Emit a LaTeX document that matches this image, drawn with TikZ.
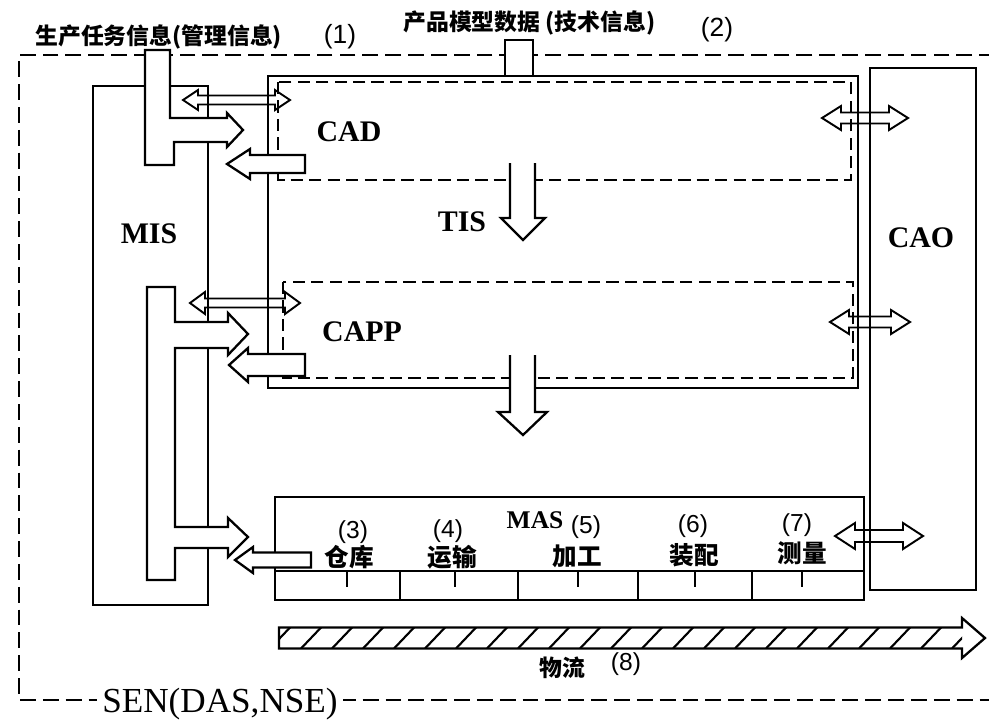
\documentclass[tikz,border=0pt]{standalone}
\usepackage{fontspec}
\setmainfont{Liberation Serif}
\setsansfont{Liberation Sans}
\newfontfamily\cjk{Noto Sans CJK SC}

\begin{document}
\begin{tikzpicture}[x=0.2mm,y=-0.2mm,
    wall/.style={line width=1.3pt},
    border/.style={line width=1.3pt,dash pattern=on 9pt off 4pt},
    subsys/.style={line width=1.2pt,dash pattern=on 7pt off 3.5pt},
    fat/.style={line width=1.3pt,fill=white,line join=miter},
    hollow/.style={line width=1.1pt,line join=miter},
    big/.style={inner sep=0pt,font=\bfseries\fontsize{17}{17}\selectfont},
    num/.style={inner sep=0pt,font=\sffamily\fontsize{14}{14}\selectfont},
    zh/.style={inner sep=0pt,font=\cjk\bfseries\fontsize{14}{14}\selectfont},
    zhtitle/.style={inner sep=0pt,font=\cjk\bfseries\fontsize{13}{13}\selectfont},
    pics/fatarrow/.style n args={4}{code={
      \draw[fat] (0,-#2) -- (#1-#4,-#2) -- (#1-#4,-#3) -- (#1,0) -- (#1-#4,#3) -- (#1-#4,#2) -- (0,#2) -- cycle;
    }},
    pics/twoway/.style n args={4}{code={
      \draw[hollow] (0,0) -- (#4,-#3) -- (#4,-#2) -- (#1-#4,-#2) -- (#1-#4,-#3) -- (#1,0)
        -- (#1-#4,#3) -- (#1-#4,#2) -- (#4,#2) -- (#4,#3) -- cycle;
    }}]
      \useasboundingbox (0,0) rectangle (989,721);

      \draw[border] (995,55) -- (19,55) -- (19,700) -- (995,700);

      \draw[wall] (93,86) rectangle (208,605);
      \draw[wall] (268,76) rectangle (858,388);
      \draw[subsys] (278,82) rectangle (851,180);
      \draw[subsys] (283,282) rectangle (853,378);
      \draw[wall] (870,68) rectangle (976,590);
      \draw[wall,fill=white] (505,40) rectangle (533,76);

      \draw[wall] (275,497) rectangle (864,600);
      \draw[wall] (275,571) -- (864,571);
      \foreach \x in {400,518,638,752}
        \draw[wall] (\x,571) -- (\x,600);
      \foreach \x in {347,455,578,695,802}
        \draw[wall] (\x,571) -- (\x,587);

      \draw[fat] (145,50) -- (170,50) -- (170,118) -- (227,118) -- (227,113) -- (243,130)
        -- (227,147) -- (227,142) -- (174,142) -- (174,165) -- (145,165) -- cycle;
      \draw[fat] (147,287) -- (175,287) -- (175,322) -- (228,322) -- (228,313) -- (248,334)
        -- (228,355) -- (228,348) -- (175,348) -- (175,527) -- (228,527) -- (228,518)
        -- (248,537) -- (228,557) -- (228,548) -- (175,548) -- (175,580) -- (147,580) -- cycle;

      \pic[rotate=180] at (305,164) {fatarrow={78}{9}{15}{23}};
      \pic[rotate=180] at (305,365) {fatarrow={76}{11}{17}{19}};
      \pic[rotate=180] at (311,560) {fatarrow={76}{7.5}{13}{18}};

      \pic at (183,100) {twoway={107}{4.5}{10}{15}};
      \pic at (190,303) {twoway={110}{4.5}{11}{15}};
      \pic at (822,118) {twoway={86}{5.5}{12}{19}};
      \pic at (830,322) {twoway={80}{5.5}{12}{19}};
      \pic at (835,536) {twoway={88}{6}{13}{20}};

      \draw[fat] (510,163) -- (510,218) -- (501,218) -- (523,240) -- (545,218) -- (535,218) -- (535,163);
      \draw[fat] (510,355) -- (510,412) -- (498,412) -- (523,435) -- (547,412) -- (535,412) -- (535,355);

      \draw[fat] (279,627.5) -- (962,627.5) -- (962,618) -- (985,638) -- (962,658) -- (962,648.5)
        -- (279,648.5) -- cycle;
      \begin{scope}
        \clip (279,627.5) rectangle (962,648.5);
        \foreach \x in {270,301,...,980}
          \draw[line width=1.2pt] (\x,648.5) -- (\x+20,627.5);
      \end{scope}

      \node[zhtitle,anchor=west] (task) at (35,37) {生产任务信息(管理信息)};
      \node[num,font=\sffamily\fontsize{15}{15}\selectfont] (n1) at (340,37) {(1)};
      \node[zhtitle,anchor=west] (model) at (403,23) {产品模型数据 (技术信息)};
      \node[num,font=\sffamily\fontsize{15}{15}\selectfont] (n2) at (717,30) {(2)};

      \node[big] (mis) at (149,234) {MIS};
      \node[big] (cad) at (349,132) {CAD};
      \node[big] (tis) at (462,222) {TIS};
      \node[big] (capp) at (362,332) {CAPP};
      \node[big] (cao) at (921,238) {CAO};
      \node[inner sep=0pt,font=\bfseries\fontsize{14.5}{14.5}\selectfont] (mas) at (535,520) {MAS};

      \node[num] (n3) at (353,532) {(3)};
      \node[zh] (store) at (349,557) {仓库};
      \node[num] (n4) at (448,531) {(4)};
      \node[zh] (transport) at (452,557) {运输};
      \node[num] (n5) at (586,527) {(5)};
      \node[zh] (machining) at (577,556) {加工};
      \node[num] (n6) at (693,526) {(6)};
      \node[zh] (assembly) at (694,555) {装配};
      \node[num] (n7) at (797,525) {(7)};
      \node[zh] (measure) at (802,553) {测量};

      \node[zh,font=\cjk\bfseries\fontsize{13}{13}\selectfont] (flow) at (562,668) {物流};
      \node[num] (n8) at (626,664) {(8)};
      \node[fill=white,inner sep=3pt,font=\fontsize{20}{20}\selectfont] (sen) at (220,704) {SEN(DAS,NSE)};
    \end{tikzpicture}
\end{document}
